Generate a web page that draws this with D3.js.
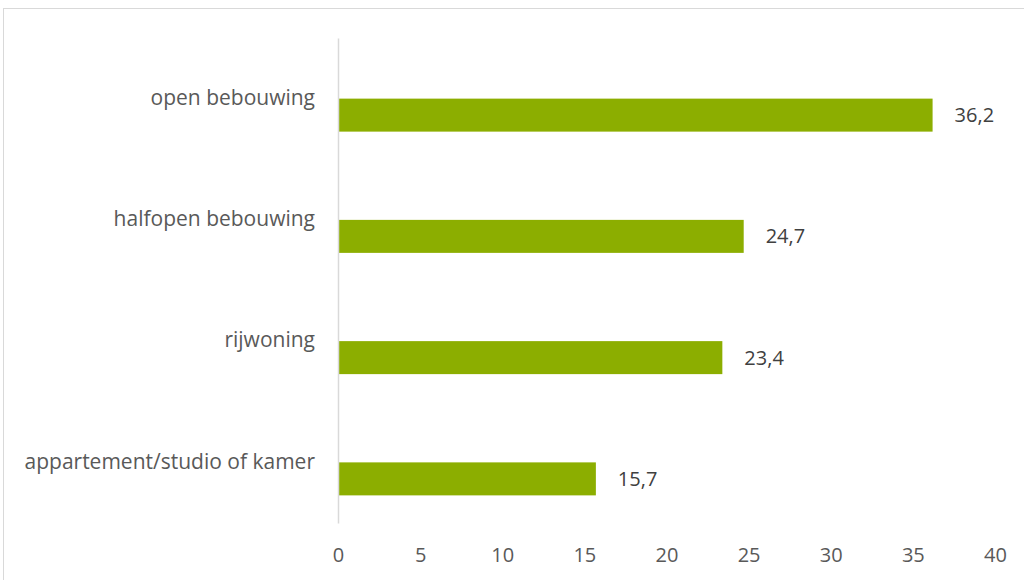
<!DOCTYPE html>
<html>
<head>
<meta charset="utf-8">
<script src="https://cdn.jsdelivr.net/npm/d3@7"></script>
<style>
  body { margin: 0; background: #fff; }
  svg { display: block; }
</style>
</head>
<body>
<div id="wrapper"></div>
<script>
// data
const categories = ["open bebouwing", "halfopen bebouwing", "rijwoning", "appartement/studio of kamer"]
const values = [36.2, 24.7, 23.4, 15.7]
const xTicks = [0, 5, 10, 15, 20, 25, 30, 35, 40]

function drawChart() {
  const dimensions = {
    width: 1024,
    height: 580,
    margin: { top: 38, right: 29, bottom: 57, left: 338 },
  }
  dimensions.boundedWidth = dimensions.width - dimensions.margin.left - dimensions.margin.right
  dimensions.boundedHeight = dimensions.height - dimensions.margin.top - dimensions.margin.bottom

  const fontFamily = "'Open Sans', sans-serif"

  const wrapper = d3.select("#wrapper")
    .append("svg")
      .attr("width", dimensions.width)
      .attr("height", dimensions.height)

  // chart frame
  wrapper.append("rect")
      .attr("x", 3.5)
      .attr("y", 8.5)
      .attr("width", 1030)
      .attr("height", 600)
      .attr("fill", "none")
      .attr("stroke", "#d9d9d9")
      .attr("stroke-width", 1)

  const bounds = wrapper.append("g")
      .attr("transform", `translate(${dimensions.margin.left}, ${dimensions.margin.top})`)

  const xScale = d3.scaleLinear()
    .domain([0, 40])
    .range([0, dimensions.boundedWidth])

  const yScale = d3.scaleBand()
    .domain(categories)
    .range([0, dimensions.boundedHeight])

  const data = categories.map((c, i) => ({ category: c, value: values[i] }))
  const barHeight = 33

  // bars
  bounds.selectAll(".bar")
      .data(data)
    .enter()
      .append("rect")
        .attr("class", "bar")
        .attr("x", xScale(0))
        .attr("y", d => yScale(d.category) + yScale.bandwidth() / 2)
        .attr("width", d => xScale(d.value) - xScale(0))
        .attr("height", barHeight)
        .attr("fill", "#8cae00")

  // value labels
  bounds.selectAll(".value")
      .data(data)
    .enter()
      .append("text")
        .attr("class", "value")
        .attr("x", d => xScale(d.value) + 22)
        .attr("y", d => yScale(d.category) + yScale.bandwidth() / 2 + barHeight / 2)
        .attr("dy", "0.35em")
        .attr("fill", "#404040")
        .style("font-family", fontFamily)
        .style("font-size", "20px")
        .text(d => d3.format(".1f")(d.value).replace(".", ","))

  // category axis
  const yAxis = d3.axisLeft(yScale).tickSize(0).tickPadding(23)
  const yAxisGroup = bounds.append("g").call(yAxis)
  yAxisGroup.select(".domain")
      .attr("stroke", "#d9d9d9")
      .attr("stroke-width", 1.5)
  yAxisGroup.selectAll("text")
      .attr("fill", "#595959")
      .attr("dy", "0.3em")
      .style("font-family", fontFamily)
      .style("font-size", "21px")

  // value axis
  const xAxis = d3.axisBottom(xScale).tickValues(xTicks).tickSize(0).tickPadding(25)
  const xAxisGroup = bounds.append("g")
      .attr("transform", `translate(0, ${dimensions.boundedHeight})`)
      .call(xAxis)
  xAxisGroup.select(".domain").remove()
  xAxisGroup.selectAll("text")
      .attr("fill", "#595959")
      .style("font-family", fontFamily)
      .style("font-size", "20px")
}

drawChart()
</script>
</body>
</html>
